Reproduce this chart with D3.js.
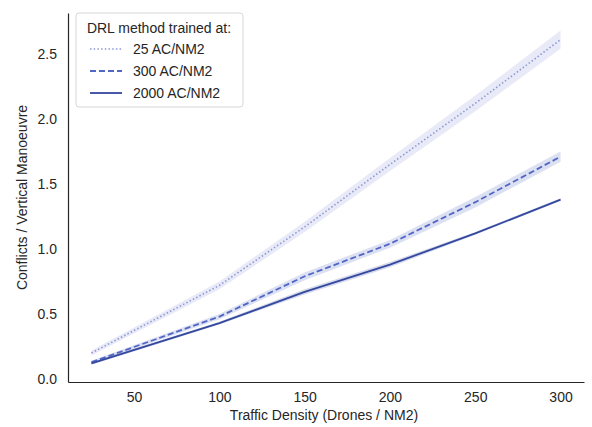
<!DOCTYPE html>
<html lang="en">
<head>
<meta charset="UTF-8">
<script src="https://d3js.org/d3.v7.min.js"></script>
<style>
  body { margin: 0; background: #fff; }
  text { font-family: "Liberation Sans", Arial, sans-serif; fill: #262626; }
</style>
</head>
<body>
<svg width="592" height="427" id="chart"></svg>
<script>
// traffic densities tested
const density = [25, 100, 150, 200, 250, 300];

// mean conflicts per vertical manoeuvre for each training density
const ac25   = [0.20, 0.72, 1.17, 1.65, 2.12, 2.61];
const ac300  = [0.13, 0.48, 0.79, 1.04, 1.36, 1.71];
const ac2000 = [0.12, 0.43, 0.67, 0.88, 1.12, 1.38];

// half width of the confidence band
const ci25   = [0.02, 0.03, 0.04, 0.05, 0.06, 0.07];
const ci300  = [0.01, 0.02, 0.03, 0.03, 0.04, 0.04];
const ci2000 = [0.01, 0.01, 0.02, 0.02, 0.01, 0.01];

const seriesNames = ["25 AC/NM2", "300 AC/NM2", "2000 AC/NM2"];
const xTicks = [50, 100, 150, 200, 250, 300];
const yTicks = [0.0, 0.5, 1.0, 1.5, 2.0, 2.5];

const series = [
  { name: seriesNames[0], y: ac25, ci: ci25, color: "#8f98d6", dash: "1.5,2.2", width: 1.6 },
  { name: seriesNames[1], y: ac300, ci: ci300, color: "#5266c4", dash: "6,3", width: 1.8 },
  { name: seriesNames[2], y: ac2000, ci: ci2000, color: "#34489e", dash: null, width: 1.8 }
];

const svg = d3.select("#chart");
const margin = { top: 13, right: 8, bottom: 45, left: 68 };
const W = +svg.attr("width"), H = +svg.attr("height");
const fs = "14px";

const x = d3.scaleLinear().domain([11.25, 313.75]).range([margin.left, W - margin.right]);
const y = d3.scaleLinear().domain([-0.023, 2.815]).range([H - margin.bottom, margin.top]);

// bands
series.forEach(s => {
  const area = d3.area()
    .x((d, i) => x(density[i]))
    .y0((d, i) => y(s.y[i] - s.ci[i]))
    .y1((d, i) => y(s.y[i] + s.ci[i]));
  svg.append("path")
    .datum(s.y)
    .attr("d", area)
    .attr("fill", s.color)
    .attr("opacity", 0.2);
});

// lines
series.forEach(s => {
  const line = d3.line().x((d, i) => x(density[i])).y(d => y(d));
  svg.append("path")
    .datum(s.y)
    .attr("d", line)
    .attr("fill", "none")
    .attr("stroke", s.color)
    .attr("stroke-width", s.width)
    .attr("stroke-dasharray", s.dash);
});

// axes (no ticks, left/bottom spines only)
const xAxis = svg.append("g")
  .attr("transform", "translate(0," + (H - margin.bottom) + ")")
  .call(d3.axisBottom(x).tickValues(xTicks).tickSize(0).tickPadding(10).tickFormat(d3.format("d")));
const yAxis = svg.append("g")
  .attr("transform", "translate(" + margin.left + ",0)")
  .call(d3.axisLeft(y).tickValues(yTicks).tickSize(0).tickPadding(11).tickFormat(d3.format(".1f")));
[xAxis, yAxis].forEach(a => {
  a.select(".domain").attr("stroke", "#262626").attr("stroke-width", 1.2);
  a.selectAll("text").style("font-size", fs).style("font-family", "Liberation Sans, Arial, sans-serif").attr("fill", "#262626");
});

// axis labels
svg.append("text")
  .attr("x", (margin.left + W - margin.right) / 2 - 2)
  .attr("y", H - 7)
  .attr("text-anchor", "middle")
  .style("font-size", fs)
  .text("Traffic Density (Drones / NM2)");

svg.append("text")
  .attr("transform", "rotate(-90)")
  .attr("x", -(margin.top + H - margin.bottom) / 2)
  .attr("y", 27)
  .attr("text-anchor", "middle")
  .style("font-size", fs)
  .text("Conflicts / Vertical Manoeuvre");

// legend
const lg = svg.append("g").attr("transform", "translate(76,13)");
lg.append("rect")
  .attr("width", 167).attr("height", 94).attr("rx", 3)
  .attr("fill", "#fff").attr("fill-opacity", 0.8)
  .attr("stroke", "#d6d6d6");
lg.append("text")
  .attr("x", 83).attr("y", 20)
  .attr("text-anchor", "middle")
  .style("font-size", fs)
  .text("DRL method trained at:");
series.forEach((s, i) => {
  const yy = 36 + i * 22;
  lg.append("line")
    .attr("x1", 14).attr("x2", 46).attr("y1", yy).attr("y2", yy)
    .attr("stroke", s.color).attr("stroke-width", s.width)
    .attr("stroke-dasharray", s.dash);
  lg.append("text")
    .attr("x", 57).attr("y", yy + 5)
    .style("font-size", fs)
    .text(s.name);
});
</script>
</body>
</html>
